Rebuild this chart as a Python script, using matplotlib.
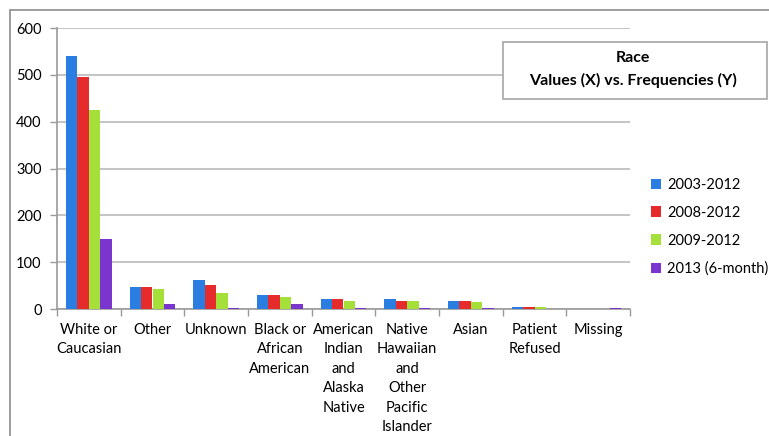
import numpy as np
import matplotlib
matplotlib.use("Agg")
import matplotlib.pyplot as plt
from matplotlib.patches import Rectangle

plt.rcParams['font.family'] = ['Lato', 'DejaVu Sans']

categories = ['White or\nCaucasian', 'Other', 'Unknown', 'Black or\nAfrican\nAmerican',
              'American\nIndian\nand\nAlaska\nNative', 'Native\nHawaiian\nand\nOther\nPacific\nIslander',
              'Asian', 'Patient\nRefused', 'Missing']
series_names = ['2003-2012', '2008-2012', '2009-2012', '2013 (6-month)']
v_2003_2012 = [540, 47, 62, 29, 21, 21, 18, 5, 0]
v_2008_2012 = [496, 47, 51, 29, 21, 17, 18, 5, 0]
v_2009_2012 = [425, 43, 34, 26, 17, 17, 14, 5, 0]
v_2013_6mo = [150, 11, 2, 10, 2, 2, 3, 0, 2]
colors = ['#2A7DE1', '#E52B2B', '#A5E03A', '#7B35CF']

fig = plt.figure(figsize=(7.69, 4.36), dpi=100)
ax = fig.add_axes([57 / 769, 1 - 309 / 436, (630 - 57) / 769, (309 - 28) / 436])

# outer chart frame (cut off on the right and bottom)
fig.patches.append(Rectangle((10 / 769, -0.1), 1.2, 1.1 - 10 / 436,
                             transform=fig.transFigure, fill=False,
                             edgecolor='#8c8c8c', linewidth=1.2))

x = np.arange(len(categories))
w = 0.179
all_vals = [v_2003_2012, v_2008_2012, v_2009_2012, v_2013_6mo]
for i, (vals, name, c) in enumerate(zip(all_vals, series_names, colors)):
    ax.bar(x + (i - 1.5) * w, vals, width=w, color=c, label=name, zorder=3)

ax.set_xlim(-0.5, len(categories) - 0.5)
ax.set_ylim(0, 600)
ax.set_yticks(range(0, 601, 100))
ax.yaxis.grid(True, color='#bfbfbf', linewidth=1.3, zorder=0)
ax.set_axisbelow(True)

ax.set_xticks(x)
ax.set_xticklabels(categories, fontsize=10.5, linespacing=1.5, va='top')
ax.tick_params(axis='x', length=0, pad=10)
ax.set_xticks(np.arange(-0.5, len(categories)), minor=True)
ax.tick_params(axis='x', which='minor', length=5, color='#9a9a9a', width=1)
ax.tick_params(axis='y', length=5, color='#9a9a9a', width=1, labelsize=10.5, pad=6)

for side in ['top', 'right']:
    ax.spines[side].set_visible(False)
for side in ['left', 'bottom']:
    ax.spines[side].set_color('#9a9a9a')
    ax.spines[side].set_linewidth(1.2)

# title box
fig.patches.append(Rectangle((503 / 769, 1 - 99 / 436), (767 - 503) / 769, 57 / 436,
                             transform=fig.transFigure, facecolor='white',
                             edgecolor='#a6a6a6', linewidth=1.2, zorder=5))
fig.text(633 / 769, 1 - 58 / 436, 'Race', ha='center', va='center',
         fontsize=11.5, fontweight='bold', zorder=6)
fig.text(633 / 769, 1 - 80 / 436, 'Values (X) vs. Frequencies (Y)', ha='center',
         va='center', fontsize=11.5, fontweight='bold', zorder=6)

ax.legend(loc='upper left', bbox_to_anchor=(645 / 769, 1 - 172 / 436),
          bbox_transform=fig.transFigure, frameon=False, fontsize=10.5,
          handlelength=0.7, handleheight=0.7, handletextpad=0.4,
          labelspacing=0.95, borderaxespad=0)

fig.savefig('out.png', dpi=100)
